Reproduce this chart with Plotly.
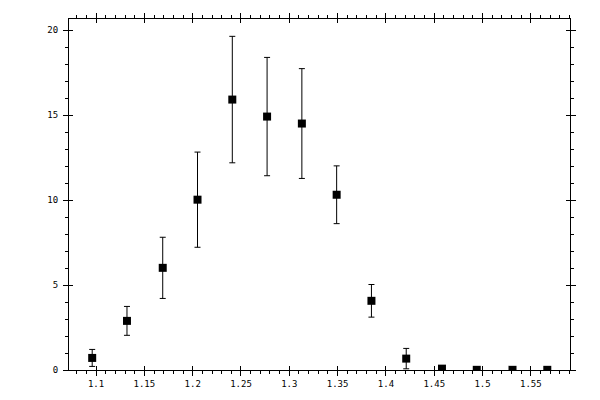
import plotly.graph_objects as go

# bin centres, counts and errors
x_vals = [1.096, 1.132, 1.169, 1.205, 1.241, 1.277, 1.313,
          1.349, 1.385, 1.421, 1.458, 1.494, 1.531, 1.567]
y_vals = [0.71, 2.89, 6.01, 10.02, 15.91, 14.91, 14.50,
          10.31, 4.07, 0.67, 0.08, 0.01, 0.01, 0.01]
y_err = [0.50, 0.85, 1.80, 2.80, 3.72, 3.48, 3.23,
         1.70, 0.96, 0.60, 0.10, 0.0, 0.0, 0.0]

x_range = [1.072, 1.5905]
y_range = [0.0, 20.65]

fig = go.Figure()
fig.add_trace(go.Scatter(
    x=x_vals, y=y_vals, mode="markers",
    marker=dict(symbol="square", size=8, color="black"),
    error_y=dict(type="data", array=y_err, visible=True,
                 color="black", thickness=1, width=3),
    showlegend=False, hoverinfo="x+y",
))

tick_font = dict(family="DejaVu Sans Mono, DejaVu Sans, monospace", size=9, color="black")

# page body has an 8px margin, so the margins are shifted to compensate
fig.update_layout(
    width=600, height=400,
    margin=dict(l=61, r=38, t=11, b=38, autoexpand=False),
    paper_bgcolor="white", plot_bgcolor="white",
    # main axes: labels + outside ticks, mirrored to the opposite side
    xaxis=dict(
        range=x_range, showgrid=False, zeroline=False,
        showline=True, linecolor="black", linewidth=1, mirror="ticks",
        ticks="outside", ticklen=5, tickwidth=1, tickcolor="black",
        tick0=1.1, dtick=0.05, tickfont=tick_font,
        minor=dict(ticks="outside", ticklen=3, tickwidth=1, tickcolor="black",
                   dtick=0.01, tick0=1.1, showgrid=False),
    ),
    yaxis=dict(
        range=y_range, showgrid=False, zeroline=False,
        showline=True, linecolor="black", linewidth=1, mirror="ticks",
        ticks="outside", ticklen=5, tickwidth=1, tickcolor="black",
        tick0=0, dtick=5, tickfont=tick_font, ticklabelstandoff=3,
        minor=dict(ticks="outside", ticklen=3, tickwidth=1, tickcolor="black",
                   dtick=1, tick0=0, showgrid=False),
    ),
    # overlay axes only for the inner half of the major ticks (crossing ticks)
    xaxis2=dict(
        overlaying="x", matches="x", range=x_range, showgrid=False, zeroline=False,
        showline=False, mirror="ticks", ticks="inside", ticklen=4, tickwidth=1,
        tickcolor="black", tick0=1.1, dtick=0.05, showticklabels=False,
    ),
    yaxis2=dict(
        overlaying="y", matches="y", range=y_range, showgrid=False, zeroline=False,
        showline=False, mirror="ticks", ticks="inside", ticklen=4, tickwidth=1,
        tickcolor="black", tick0=0, dtick=5, showticklabels=False,
    ),
)

# invisible trace to make the overlay axes render
fig.add_trace(go.Scatter(x=[x_vals[0]], y=[y_vals[0]], xaxis="x2", yaxis="y2",
                         mode="markers", marker=dict(opacity=0),
                         showlegend=False, hoverinfo="skip"))

fig.write_html("out.html")
